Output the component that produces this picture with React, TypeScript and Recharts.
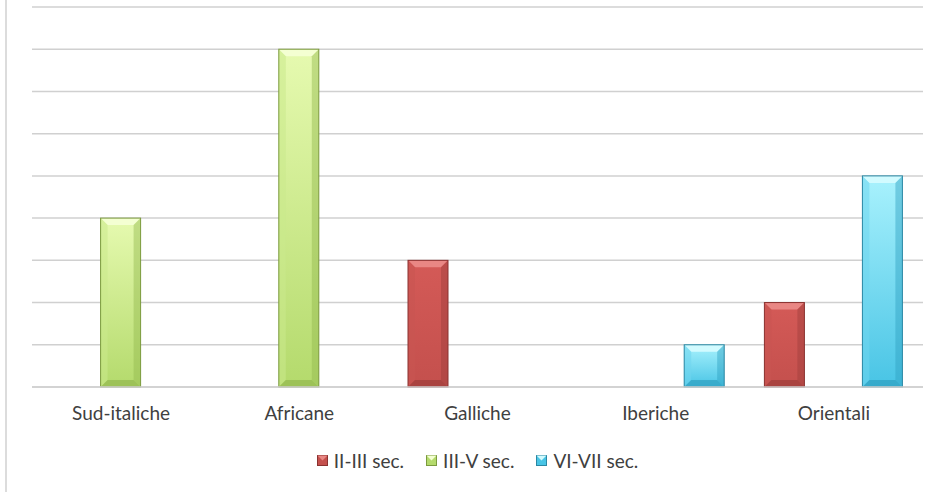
import { BarChart, Bar, XAxis, YAxis, CartesianGrid, Legend } from 'recharts';

const categories = ['Sud-italiche', 'Africane', 'Galliche', 'Iberiche', 'Orientali'];
const secIIIII = [null, null, 3, null, 2];
const secIIIV = [4, 8, null, null, null];
const secVIVII = [null, null, null, 1, 5];
const yTicks = [0, 1, 2, 3, 4, 5, 6, 7, 8, 9];

const data = categories.map((name, i) => ({
  name,
  a: secIIIII[i],
  b: secIIIV[i],
  c: secVIVII[i],
}));

type Pal = { top: string; bottom: string; light: string; dark: string; side: string; edge: string };

const palettes: Record<string, Pal> = {
  a: { top: '#d45a57', bottom: '#c4504d', light: '#e98784', dark: '#9e3d3b', side: '#c85552', edge: '#8a3230' },
  b: { top: '#e6fab0', bottom: '#b4da6c', light: '#f4ffd2', dark: '#93b84e', side: '#cbea8c', edge: '#7b9a3e' },
  c: { top: '#a9f2fd', bottom: '#48c4e5', light: '#d2fbff', dark: '#2f9fc0', side: '#6fd6ef', edge: '#2a87a3' },
};

const series = [
  { key: 'a', name: 'II-III sec.' },
  { key: 'b', name: 'III-V sec.' },
  { key: 'c', name: 'VI-VII sec.' },
];

function makeShape(k: string) {
  return (props: any) => {
    const { x, y, width, height } = props;
    if (!height || height <= 0) return <g />;
    const p = palettes[k];
    const b = Math.min(7, width / 4, height / 3);
    const x2 = x + width;
    const y2 = y + height;
    return (
      <g>
        <rect x={x} y={y} width={width} height={height} fill={`url(#grad-${k})`} />
        <polygon points={`${x},${y} ${x2},${y} ${x2 - b},${y + b} ${x + b},${y + b}`} fill={p.light} />
        <polygon points={`${x},${y} ${x + b},${y + b} ${x + b},${y2 - b} ${x},${y2}`} fill={p.side} opacity={0.55} />
        <polygon points={`${x2},${y} ${x2 - b},${y + b} ${x2 - b},${y2 - b} ${x2},${y2}`} fill={p.dark} opacity={0.45} />
        <polygon points={`${x},${y2} ${x + b},${y2 - b} ${x2 - b},${y2 - b} ${x2},${y2}`} fill={p.dark} opacity={0.7} />
        <rect x={x} y={y} width={width} height={height} fill="none" stroke={p.edge} strokeWidth={1} />
      </g>
    );
  };
}

function LegendIcon({ k }: { k: string }) {
  const p = palettes[k];
  return (
    <svg width={11} height={11} style={{ marginRight: 6 }}>
      <rect x={0.5} y={0.5} width={10} height={10} fill={p.bottom} stroke={p.edge} />
      <polygon points="0.5,0.5 10.5,0.5 5.5,5.5" fill={p.light} />
    </svg>
  );
}

function renderLegend() {
  return (
    <div style={{ display: 'flex', justifyContent: 'center', height: 20, alignItems: 'center' }}>
      {series.map((s) => (
        <div key={s.key} style={{ display: 'flex', alignItems: 'center', margin: '0 11px', color: '#404040', fontSize: 19 }}>
          <LegendIcon k={s.key} />
          <span>{s.name}</span>
        </div>
      ))}
    </div>
  );
}

export default function App() {
  return (
    <div
      style={{
        position: 'absolute',
        left: 0,
        top: 0,
        width: 939,
        height: 492,
        background: '#fff',
        fontFamily: 'Lato, "Open Sans", sans-serif',
      }}
    >
      <div style={{ position: 'absolute', left: 5, top: 0, width: 2, height: 492, background: '#dcdcdc' }} />
      <BarChart
        width={939}
        height={492}
        data={data}
        margin={{ top: 7, right: 16, left: 32, bottom: 22 }}
        barCategoryGap="11%"
        barGap={9}
      >
        <defs>
          {Object.keys(palettes).map((k) => (
            <linearGradient key={k} id={`grad-${k}`} x1="0" y1="0" x2="0" y2="1">
              <stop offset="0%" stopColor={palettes[k].top} />
              <stop offset="100%" stopColor={palettes[k].bottom} />
            </linearGradient>
          ))}
        </defs>
        <CartesianGrid vertical={false} stroke="#d0d0d0" strokeWidth={1.5} />
        <XAxis
          dataKey="name"
          height={63}
          tickLine={false}
          axisLine={{ stroke: '#d0d0d0', strokeWidth: 1.5 }}
          tick={{ fill: '#404040', fontSize: 19 }}
          tickMargin={14}
        />
        <YAxis hide domain={[0, 9]} ticks={yTicks} width={0} />
        <Legend verticalAlign="bottom" height={20} content={renderLegend} />
        {series.map((s) => (
          <Bar
            key={s.key}
            dataKey={s.key}
            name={s.name}
            fill={palettes[s.key].bottom}
            shape={makeShape(s.key)}
            isAnimationActive={false}
          />
        ))}
      </BarChart>
    </div>
  );
}
